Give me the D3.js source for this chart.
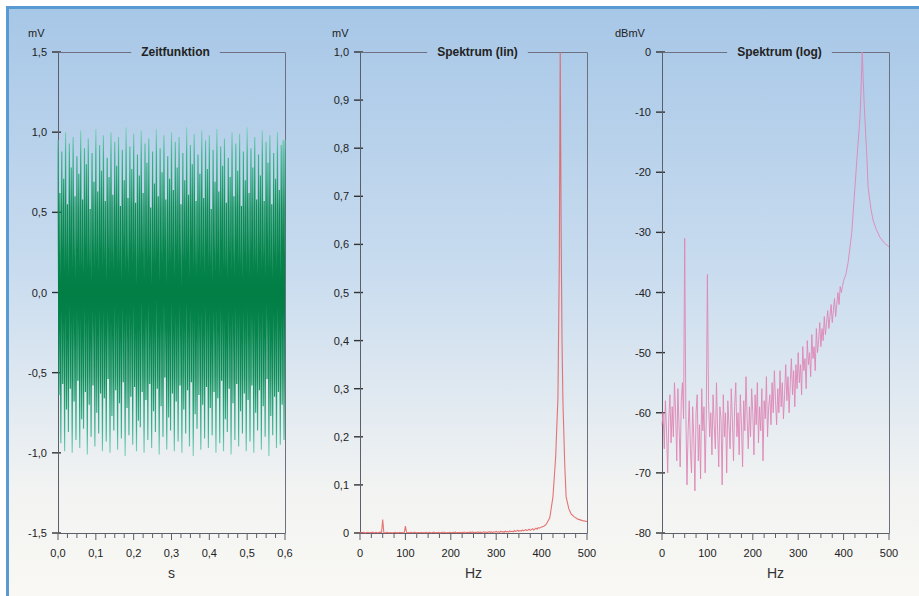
<!DOCTYPE html>
<html>
<head>
	<meta charset="utf-8">
	<title>Zeitfunktion und Spektrum</title>
	<style>
		body { margin: 0; background: #fff; }
		svg { display: block; font-family: "Liberation Sans", Arial, sans-serif; }
	</style>
</head>
<body>
	<svg width="919" height="596"></svg>
<script src="https://cdn.jsdelivr.net/npm/d3@7/dist/d3.min.js"></script>
<script>
	//Zeitfunktion: obere und untere Spitzen je Schwingung (mV), 0 ... 0,6 s
	const zeitDauer = 0.6
	const zeitHoch = [
		0.95, 0.62, 0.88, 0.71, 1.00, 0.55, 0.93, 0.78, 0.97, 0.60,
		0.85, 0.74, 1.01, 0.58, 0.90, 0.80, 0.96, 0.52, 0.87, 0.69,
		1.02, 0.63, 0.92, 0.76, 0.98, 0.57, 0.84, 0.72, 1.00, 0.61,
		0.94, 0.79, 0.97, 0.54, 0.89, 0.70, 1.03, 0.59, 0.91, 0.77,
		0.99, 0.56, 0.86, 0.73, 1.01, 0.62, 0.93, 0.81, 0.96, 0.53,
		0.88, 0.68, 1.02, 0.60, 0.90, 0.75, 0.98, 0.58, 0.85, 0.71,
		1.00, 0.64, 0.94, 0.78, 0.97, 0.55, 0.87, 0.70, 1.03, 0.61,
		0.92, 0.80, 0.99, 0.57, 0.86, 0.74, 1.01, 0.59, 0.95, 0.77,
		0.98, 0.52, 0.89, 0.69, 1.02, 0.63, 0.91, 0.79, 0.96, 0.56,
		0.84, 0.72, 1.00, 0.60, 0.93, 0.76, 0.99, 0.54, 0.88, 0.70,
		1.03, 0.62, 0.90, 0.78, 0.97, 0.58, 0.86, 0.73, 1.01, 0.57,
		0.94, 0.81, 0.98, 0.55, 0.87, 0.71, 1.00, 0.64, 0.92, 0.95
	]
	const zeitTief = [
		-0.64, -0.94, -0.57, -0.99, -0.73, -0.87, -0.60, -1.00, -0.68, -0.92,
		-0.55, -0.97, -0.79, -0.85, -0.62, -1.01, -0.70, -0.90, -0.58, -0.96,
		-0.75, -0.88, -0.63, -0.99, -0.66, -0.93, -0.54, -1.00, -0.77, -0.86,
		-0.61, -0.98, -0.69, -0.91, -0.56, -1.02, -0.72, -0.89, -0.65, -0.95,
		-0.59, -0.99, -0.80, -0.84, -0.62, -1.00, -0.67, -0.92, -0.57, -0.97,
		-0.74, -0.87, -0.60, -1.01, -0.71, -0.90, -0.53, -0.98, -0.78, -0.86,
		-0.63, -0.99, -0.68, -0.93, -0.58, -1.00, -0.73, -0.88, -0.61, -0.96,
		-0.56, -1.02, -0.76, -0.85, -0.64, -0.98, -0.70, -0.91, -0.59, -0.97,
		-0.72, -0.89, -0.62, -1.00, -0.66, -0.94, -0.55, -0.99, -0.79, -0.87,
		-0.60, -1.01, -0.69, -0.92, -0.57, -0.96, -0.74, -0.88, -0.63, -0.99,
		-0.67, -0.93, -0.58, -1.00, -0.75, -0.86, -0.61, -0.98, -0.71, -0.90,
		-0.54, -1.02, -0.77, -0.89, -0.65, -0.97, -0.62, -0.95, -0.70, -0.92
	]

	//Spektrum in dBmV: Rauschen 0 ... 397,5 Hz im 2,5-Hz-Raster
	const rauschSchritt = 2.5
	const rauschDb = [
		-62, -60, -66, -58, -63, -70, -61, -57, -65, -59,
		-64, -55, -60, -68, -56, -62, -69, -58, -55, -61,
		-31, -60, -72, -63, -58, -66, -70, -59, -64, -73,
		-60, -57, -68, -62, -71, -56, -63, -59, -70, -61,
		-37, -58, -64, -60, -67, -57, -62, -66, -55, -63,
		-69, -59, -61, -72, -57, -64, -60, -70, -58, -62,
		-66, -56, -61, -68, -59, -55, -64, -60, -67, -57,
		-62, -69, -58, -63, -54, -61, -66, -59, -64, -56,
		-60, -67, -57, -62, -55, -65, -59, -63, -56, -68,
		-58, -61, -54, -64, -59, -57, -62, -55, -60, -53,
		-58, -62, -56, -60, -53, -59, -55, -61, -57, -52,
		-58, -54, -60, -55, -51, -57, -53, -59, -52, -56,
		-50, -55, -52, -57, -49, -53, -51, -56, -48, -52,
		-50, -54, -47, -51, -49, -53, -46, -50, -48, -45,
		-49, -46, -48, -44, -47, -45, -43, -46, -44, -42,
		-45, -43, -41, -44, -42, -40, -42, -39, -40, -39
	]
	//Spitze bei 440 Hz
	const spitzeHz = [400, 405, 410, 418, 425, 431, 436, 439, 441, 443, 445, 447, 451, 454, 460, 465, 472, 480, 490, 500]
	const spitzeDb = [-38, -37, -35, -30, -22.5, -16, -11, -5, 0, -4, -8, -11.3, -17, -22.5, -26, -28, -29.5, -30.8, -31.8, -32.4]

	//Achsen
	const zeitTicks = [0, 0.1, 0.2, 0.3, 0.4, 0.5, 0.6]
	const zeitTickLabels = ["0,0", "0,1", "0,2", "0,3", "0,4", "0,5", "0,6"]
	const hzTicks = [0, 100, 200, 300, 400, 500]
	const hzTickLabels = ["0", "100", "200", "300", "400", "500"]
	const mvTicks = [1.5, 1, 0.5, 0, -0.5, -1, -1.5]
	const mvTickLabels = ["1,5", "1,0", "0,5", "0,0", "-0,5", "-1,0", "-1,5"]
	const linTicks = [1, 0.9, 0.8, 0.7, 0.6, 0.5, 0.4, 0.3, 0.2, 0.1, 0]
	const linTickLabels = ["1,0", "0,9", "0,8", "0,7", "0,6", "0,5", "0,4", "0,3", "0,2", "0,1", "0"]
	const dbTicks = [0, -10, -20, -30, -40, -50, -60, -70, -80]
	const dbTickLabels = ["0", "-10", "-20", "-30", "-40", "-50", "-60", "-70", "-80"]

	//Spektrum als [Hz, dBmV]
	let spektrum = rauschDb.map((d, i) => [i * rauschSchritt, d])
		.concat(spitzeHz.map((h, i) => [h, spitzeDb[i]]))

	let svg = d3.select("svg")
	let defs = svg.append("defs")

	//Hintergrund
	let bg = defs.append("linearGradient").attr("id", "bg")
		.attr("x1", 0).attr("y1", 0).attr("x2", 0).attr("y2", 1)
	bg.append("stop").attr("offset", "0%").attr("stop-color", "#a7c7e7")
	bg.append("stop").attr("offset", "45%").attr("stop-color", "#c9dcef")
	bg.append("stop").attr("offset", "82%").attr("stop-color", "#f2f3f2")
	bg.append("stop").attr("offset", "100%").attr("stop-color", "#f9f8f4")
	svg.append("rect").attr("x", 7).attr("y", 7).attr("width", 912).attr("height", 589)
		.attr("fill", "url(#bg)")
	//Rahmen oben und links
	svg.append("path").attr("d", "M7.5,596 V7.5 H919")
		.attr("fill", "none").attr("stroke", "#5a9ad2").attr("stroke-width", 3)

	const yTop = 52, yBot = 533
	const achsenFarbe = "#5b5f6a"

	//Ein Diagramm mit Achsen und Rahmen
	function panel(p) {
		let g = svg.append("g")
		let x = d3.scaleLinear().domain(p.xDomain).range([p.x0, p.x1])
		let y = d3.scaleLinear().domain(p.yDomain).range([yBot, yTop])

		//Einheit
		g.append("text").attr("x", p.x0 - p.unitDx).attr("y", 37)
			.attr("font-size", 11).attr("fill", "#222").text(p.unit)

		//Y-Ticks
		p.yTicks.forEach((v, i) => {
			g.append("line").attr("x1", p.x0 - 6).attr("x2", p.x0 + 3)
				.attr("y1", y(v)).attr("y2", y(v))
				.attr("stroke", "#333").attr("stroke-width", 1.4)
			g.append("text").attr("x", p.x0 - 11).attr("y", y(v) + 4)
				.attr("text-anchor", "end").attr("font-size", 11).attr("fill", "#222")
				.text(p.yLabels[i])
		})

		//X-Ticks (klein und gross)
		let kleine = d3.range(0, p.nMinor + 1).map(i => p.xDomain[0] + i * (p.xDomain[1] - p.xDomain[0]) / p.nMinor)
		g.selectAll("line.xt").data(kleine).enter().append("line")
			.attr("x1", d => x(d)).attr("x2", d => x(d))
			.attr("y1", yBot).attr("y2", (d, i) => yBot + (i % p.perMajor == 0 ? 7 : 5))
			.attr("stroke", achsenFarbe).attr("stroke-width", 1)
		p.xTicks.forEach((v, i) => {
			g.append("text").attr("x", x(v)).attr("y", 557)
				.attr("text-anchor", "middle").attr("font-size", 11).attr("fill", "#222")
				.text(p.xLabels[i])
		})
		g.append("text").attr("x", (p.x0 + p.x1) / 2).attr("y", 578)
			.attr("text-anchor", "middle").attr("font-size", 14).attr("fill", "#333")
			.text(p.xName)

		//Titel
		let tx = (p.x0 + p.x1) / 2 + 4
		let t = g.append("text").attr("x", tx).attr("y", yTop + 4)
			.attr("text-anchor", "middle").attr("font-size", 12).attr("font-weight", "bold")
			.attr("fill", "#222").text(p.title)
		let w = t.node().getComputedTextLength()

		//Rahmen
		let rahmen = `M${p.x0},${yTop + 0.5} H${tx - w / 2 - 10} M${tx + w / 2 + 10},${yTop + 0.5} H${p.x1 + 0.5} V${yBot}`
		g.append("path").attr("d", rahmen).attr("fill", "none")
			.attr("stroke", "#6c7080").attr("stroke-width", 1)
		g.append("path").attr("d", `M${p.x0 + 0.5},${yTop} V${yBot + 0.5} H${p.x1 + 0.5}`)
			.attr("fill", "none").attr("stroke", achsenFarbe).attr("stroke-width", 1)

		return {x: x, y: y, g: g}
	}

	//Zeitfunktion
	let p1 = panel({x0: 58, x1: 285, xDomain: [0, 0.6], yDomain: [-1.5, 1.5],
		unit: "mV", unitDx: 30, title: "Zeitfunktion", xName: "s",
		yTicks: mvTicks, yLabels: mvTickLabels, xTicks: zeitTicks, xLabels: zeitTickLabels,
		nMinor: 24, perMajor: 4})
	let gr = defs.append("linearGradient").attr("id", "gruen")
		.attr("gradientUnits", "userSpaceOnUse")
		.attr("x1", 0).attr("x2", 0).attr("y1", p1.y(1.05)).attr("y2", p1.y(-1.05))
	;[["0%", "#8fd8c6"], ["9%", "#3fb590"], ["25%", "#0d8d57"], ["50%", "#007e44"],
	  ["75%", "#0d8d57"], ["91%", "#3fb590"], ["100%", "#8fd8c6"]].forEach(s =>
		gr.append("stop").attr("offset", s[0]).attr("stop-color", s[1]))
	let dt = zeitDauer / zeitHoch.length
	let zeitPunkte = []
	zeitHoch.forEach((v, i) => {
		zeitPunkte.push([i * dt, v])
		zeitPunkte.push([(i + 0.5) * dt, zeitTief[i]])
	})
	zeitPunkte.push([zeitDauer, zeitHoch[zeitHoch.length - 1]])
	p1.g.append("path")
		.attr("d", d3.line().x(d => p1.x(d[0])).y(d => p1.y(d[1]))(zeitPunkte))
		.attr("fill", "none").attr("stroke", "url(#gruen)").attr("stroke-width", 1.15)

	//Spektrum linear (mV = 10^(dBmV/20))
	let p2 = panel({x0: 360, x1: 587, xDomain: [0, 500], yDomain: [0, 1],
		unit: "mV", unitDx: 28, title: "Spektrum (lin)", xName: "Hz",
		yTicks: linTicks, yLabels: linTickLabels, xTicks: hzTicks, xLabels: hzTickLabels,
		nMinor: 20, perMajor: 4})
	p2.g.append("path")
		.attr("d", d3.line().x(d => p2.x(d[0])).y(d => p2.y(Math.pow(10, d[1] / 20)))(spektrum))
		.attr("fill", "none").attr("stroke", "#e35d5d").attr("stroke-opacity", 0.85).attr("stroke-width", 1.1)

	//Spektrum logarithmisch
	let p3 = panel({x0: 662, x1: 889, xDomain: [0, 500], yDomain: [-80, 0],
		unit: "dBmV", unitDx: 47, title: "Spektrum (log)", xName: "Hz",
		yTicks: dbTicks, yLabels: dbTickLabels, xTicks: hzTicks, xLabels: hzTickLabels,
		nMinor: 20, perMajor: 4})
	p3.g.append("path")
		.attr("d", d3.line().x(d => p3.x(d[0])).y(d => p3.y(d[1]))(spektrum))
		.attr("fill", "none").attr("stroke", "#df86b6").attr("stroke-width", 0.9)
</script>
</body>
</html>
